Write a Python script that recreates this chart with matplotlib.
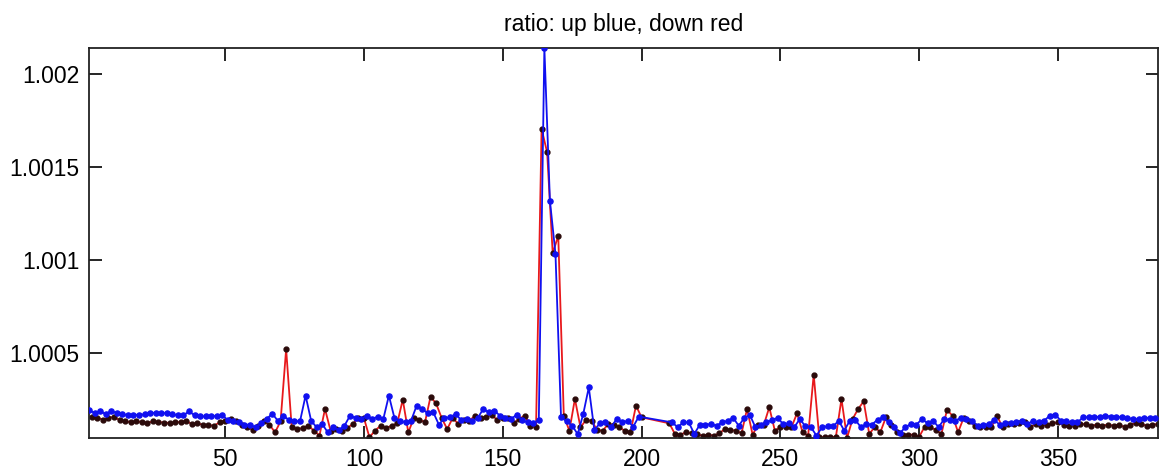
import numpy as np
import matplotlib
matplotlib.use("Agg")
import matplotlib.pyplot as plt

# ratio values given as parts-per-million above 1 (ratio = 1 + ppm*1e-6)
blue_x_start = [1, 211]
blue_x_stop = [199, 385]
blue_ppm = [
    192, 175, 185, 170, 186, 176, 168, 165, 166, 165,
    168, 176, 176, 176, 174, 168, 164, 162, 185, 163,
    157, 157, 158, 160, 163, 138, 131, 125, 113, 112,
    98, 120, 143, 172, 134, 161, 138, 131, 131, 269,
    134, 98, 116, 71, 98, 84, 107, 161, 149, 143,
    161, 143, 156, 143, 269, 149, 134, 125, 134, 215,
    197, 174, 179, 113, 149, 152, 170, 138, 143, 131,
    149, 197, 179, 188, 161, 149, 143, 166, 138, 125,
    120, 140, 2138, 1317, 1031, 153, 131, 107, 62, 170,
    313, 84, 120, 125, 98, 143, 125, 134, 102, 156,
    # after gap (211 ...)
    125, 99, 125, 125, 63, 113, 113, 116, 107, 125,
    134, 149, 107, 149, 165, 99, 113, 125, 138, 149,
    116, 120, 99, 143, 104, 99, 54, 99, 104, 104,
    134, 81, 134, 138, 99, 116, 113, 140,
    152, 125, 99, 66, 99, 116, 113, 143, 120, 134,
    99, 143, 138, 134, 149, 143, 134, 107, 113, 116,
    138, 113, 120, 120, 125, 134, 116, 134, 125, 134,
    161, 167, 134, 131, 125, 125, 152, 152, 152, 156,
    161, 156, 156, 152, 149, 143, 143, 149, 149, 149,
]

red_x_start = [2, 210]
red_x_stop = [200, 386]
red_ppm = [
    156, 150, 140, 148, 156, 136, 130, 126, 130, 126,
    122, 130, 127, 124, 122, 125, 127, 134, 116, 120,
    112, 110, 107, 125, 134, 143, 134, 111, 98, 84,
    107, 131, 113, 71, 131, 519, 98, 89, 95, 107,
    80, 54, 197, 80, 89, 80, 95, 116, 149, 149,
    45, 80, 107, 95, 107, 120, 247, 71, 149, 140,
    125, 263, 227, 149, 89, 149, 116, 140, 134, 161,
    149, 156, 166, 138, 149, 149, 120, 145, 161, 107,
    98, 1703, 1577, 1034, 1129, 161, 80, 251, 98, 138,
    134, 84, 80, 116, 113, 98, 80, 71, 215, 152,
    # after gap (210 ...)
    120, 63, 59, 72, 66, 60, 54, 59, 54, 66,
    90, 84, 81, 66, 197, 59, 113, 110, 206, 81,
    99, 102, 99, 174, 72, 54, 382, 45, 45, 45,
    48, 251, 41, 143, 197, 238, 63, 100,
    72, 152, 110, 72, 59, 59, 59, 48, 102, 100,
    84, 63, 192, 161, 72, 149, 134, 107, 102, 102,
    99, 161, 99, 116, 116, 120, 125, 99, 116, 107,
    113, 120, 125, 113, 107, 107, 116, 116, 107, 113,
    107, 113, 107, 113, 99, 113, 120, 116, 107, 113,
    116,
]

y_ticks = [1.0005, 1.001, 1.0015, 1.002]
y_tick_labels = ["1.0005", "1.001", "1.0015", "1.002"]
x_ticks = [50, 100, 150, 200, 250, 300, 350]
title = "ratio: up blue, down red"

blue_x = np.concatenate([np.arange(a, b + 1, 2) for a, b in zip(blue_x_start, blue_x_stop)])
red_x = np.concatenate([np.arange(a, b + 1, 2) for a, b in zip(red_x_start, red_x_stop)])
blue_y = 1 + np.array(blue_ppm) * 1e-6
red_y = 1 + np.array(red_ppm) * 1e-6
assert len(blue_x) == len(blue_y), (len(blue_x), len(blue_y))
assert len(red_x) == len(red_y), (len(red_x), len(red_y))

plt.rcParams['font.family'] = ['Liberation Sans', 'DejaVu Sans']

fig = plt.figure(figsize=(11.59, 4.76), dpi=100)
ax = fig.add_axes([89 / 1159, 38 / 476, (1158 - 89) / 1159, (438 - 48) / 476])

ax.plot(red_x, red_y, '-', color='#e8191c', lw=1.3, marker='o', ms=3.5,
        mfc='#2a0a0a', mec='#2a0a0a', zorder=2)
ax.plot(blue_x, blue_y, '-', color='#1010f0', lw=1.3, marker='o', ms=3.7,
        mfc='#1010f0', mec='#1010f0', zorder=3)

ax.set_xlim(1, 386)
ymin = min(blue_y.min(), red_y.min())
ymax = max(blue_y.max(), red_y.max())
ax.set_ylim(ymin, ymax)

ax.set_xticks(x_ticks)
ax.set_xticklabels([str(v) for v in x_ticks])
ax.set_yticks(y_ticks)
ax.set_yticklabels(y_tick_labels)
ax.tick_params(direction='in', length=9, width=1.2, top=True, right=True,
               labelsize=16.5, color='black')
ax.tick_params(axis='x', pad=7)
ax.tick_params(axis='y', pad=7)
for s in ax.spines.values():
    s.set_linewidth(1.3)
    s.set_color('#222222')

fig.text((89 + 1158) / 2 / 1159, 1 - 31 / 476, title, ha='center', va='baseline',
         fontsize=16.5)

fig.savefig('out.png', dpi=100)
